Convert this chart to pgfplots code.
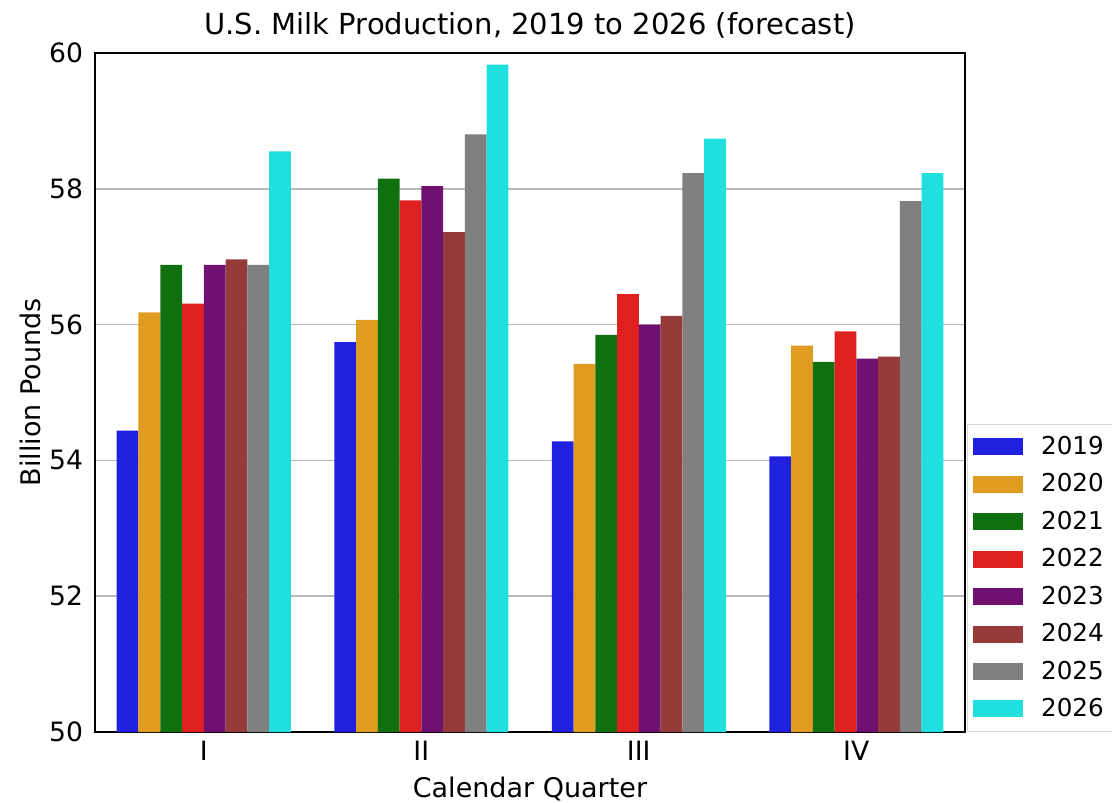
\documentclass[border=0pt]{standalone}
\usepackage{fontspec}
\setmainfont{DejaVu Sans}
\usepackage{pgfplots}
\pgfplotsset{compat=1.18}

\definecolor{c2019}{RGB}{32,32,223}
\definecolor{c2020}{RGB}{223,156,32}
\definecolor{c2021}{RGB}{16,112,16}
\definecolor{c2022}{RGB}{223,32,32}
\definecolor{c2023}{RGB}{112,16,112}
\definecolor{c2024}{RGB}{150,58,58}
\definecolor{c2025}{RGB}{128,128,128}
\definecolor{c2026}{RGB}{32,223,223}

\begin{document}
\begin{tikzpicture}
\begin{axis}[
    name=ax,
    ybar,
    scale only axis,
    width=435pt,
    height=339.5pt,
    xmin=-0.5, xmax=3.5,
    ymin=50, ymax=60,
    xtick={0,1,2,3},
    xticklabels={I,II,III,IV},
    ytick={50,52,54,56,58,60},
    major tick length=0pt,
    ymajorgrids,
    grid style={gray!55, line width=0.8pt},
    axis line style={line width=0.8pt},
    bar width=0.1,
    /pgf/number format/assume math mode=true,
    tick label style={font=\fontsize{13.3}{16}\selectfont},
    yticklabel style={xshift=-2.5pt},
    xticklabel style={yshift=-1pt},
    label style={font=\fontsize{13.5}{16}\selectfont},
    title style={font=\fontsize{14.5}{17}\selectfont, yshift=-2pt},
    title={U.S. Milk Production, 2019 to 2026 (forecast)},
    xlabel={Calendar Quarter},
    ylabel={Billion Pounds},
    xlabel style={yshift=-1.5pt},
    ylabel style={yshift=-3pt},
    legend style={at={(1.002,0)}, anchor=south west, draw=gray!30,
        font=\fontsize{12.3}{15}\selectfont, row sep=4.1pt, column sep=4pt,
        inner xsep=3pt, inner ysep=4pt,
        nodes={inner xsep=5pt}},
    legend cell align=left,
    legend image code/.code={\fill[#1] (0pt,-4.25pt) rectangle (25pt,4.25pt);},
]
\addplot[fill=c2019, draw=none, bar shift=-0.35] coordinates {(0,54.44) (1,55.74) (2,54.28) (3,54.06)};
\addplot[fill=c2020, draw=none, bar shift=-0.25] coordinates {(0,56.18) (1,56.07) (2,55.42) (3,55.69)};
\addplot[fill=c2021, draw=none, bar shift=-0.15] coordinates {(0,56.88) (1,58.15) (2,55.85) (3,55.45)};
\addplot[fill=c2022, draw=none, bar shift=-0.05] coordinates {(0,56.31) (1,57.83) (2,56.45) (3,55.90)};
\addplot[fill=c2023, draw=none, bar shift=0.05] coordinates {(0,56.88) (1,58.04) (2,56.00) (3,55.50)};
\addplot[fill=c2024, draw=none, bar shift=0.15] coordinates {(0,56.96) (1,57.36) (2,56.13) (3,55.53)};
\addplot[fill=c2025, draw=none, bar shift=0.25] coordinates {(0,56.88) (1,58.80) (2,58.23) (3,57.82)};
\addplot[fill=c2026, draw=none, bar shift=0.35] coordinates {(0,58.55) (1,59.83) (2,58.74) (3,58.23)};
\legend{2019,2020,2021,2022,2023,2024,2025,2026}
\end{axis}
\pgfresetboundingbox
\path ([xshift=-47.5pt,yshift=-35pt]ax.south west) rectangle ([xshift=508.5pt,yshift=366pt]ax.south west);
\end{tikzpicture}
\end{document}
